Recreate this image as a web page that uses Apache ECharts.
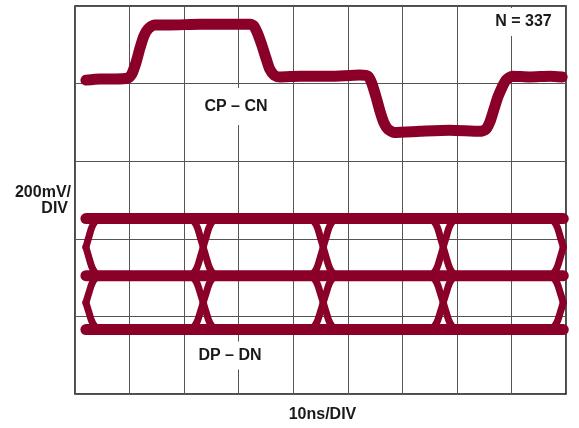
<!DOCTYPE html>
<html>
<head>
<meta charset="utf-8">
<script src="https://cdn.jsdelivr.net/npm/echarts@6/dist/echarts.min.js"></script>
<style>
html,body{margin:0;padding:0;background:#fff;}
#chart{width:579px;height:428px;}
</style>
</head>
<body>
<div id="chart"></div>
<script>
// ---- data (time in ns, amplitude in mV) ----
const xTicksNs = [0, 10, 20, 30, 40, 50, 60, 70, 80, 90];
const yTicksMv = [0, 200, 400, 600, 800, 1000];

// CP - CN trace
const cpcnTime = [2.0, 4.6, 7.3, 9.7, 10.4, 11.2, 11.9, 12.6, 13.4, 14.5, 17.4, 22.9, 28.4, 32.1,
  32.8, 33.5, 34.3, 35.0, 35.7, 36.5, 37.6, 41.2, 46.7, 52.2, 53.7, 54.4, 55.2, 55.9, 56.6, 57.4,
  58.5, 63.2, 68.7, 74.2, 75.3, 76.1, 76.8, 77.5, 78.3, 79.0, 80.1, 83.4, 87.1, 89.3];
const cpcnMv = [809, 812, 812, 814, 824, 855, 891, 922, 941, 951, 951, 953, 953, 953,
  948, 928, 897, 866, 837, 822, 817, 819, 819, 822, 819, 801, 765, 729, 700, 682,
  674, 677, 680, 677, 682, 703, 734, 765, 791, 809, 819, 817, 819, 817];

// DP - DN eye diagram
const eyeLevelsMv = [452, 305, 166];
const eyeCrossNs = [2.0, 23.5, 45.5, 67.5, 89.5];
const eyeSpanNs = [2.0, 89.5];
// measured shape of one edge: time offset from crossing, fraction of swing done
const edgeOffsetNs = [-2.4, -1.7, -1.1, -0.55, 0, 0.55, 1.1, 1.7, 2.4];
const edgeFraction = [0, 0.05, 0.15, 0.32, 0.5, 0.68, 0.85, 0.95, 1];

// ---- build series ----
const RED = '#8a0029';
const series = [];
series.push({
  type: 'line', data: cpcnTime.map((t, i) => [t, cpcnMv[i]]),
  showSymbol: false, smooth: 0.2,
  lineStyle: { color: RED, width: 11, cap: 'round', join: 'round' }
});
eyeLevelsMv.forEach(lv => {
  series.push({
    type: 'line', data: [[eyeSpanNs[0], lv], [eyeSpanNs[1], lv]], showSymbol: false,
    lineStyle: { color: RED, width: 11, cap: 'round' }
  });
});
const pairs = [[eyeLevelsMv[0], eyeLevelsMv[1]], [eyeLevelsMv[1], eyeLevelsMv[2]]];
eyeCrossNs.forEach(c => {
  pairs.forEach(([hi, lo]) => {
    [true, false].forEach(falling => {
      const pts = [];
      edgeOffsetNs.forEach((o, i) => {
        const t = c + o;
        if (t < eyeSpanNs[0] - 1e-6 || t > eyeSpanNs[1] + 1e-6) return;
        const f = edgeFraction[i];
        pts.push([t, falling ? hi - f * (hi - lo) : lo + f * (hi - lo)]);
      });
      series.push({
        type: 'line', data: pts, showSymbol: false, smooth: 0.4,
        lineStyle: { color: RED, width: 7, cap: 'round', join: 'round' }
      });
    });
  });
});

const FONT = 'bold 16px "Liberation Sans", Arial, sans-serif';
const TXT = '#1a1a1a';
function label(text, x, y, align, pad) {
  const st = { text, x, y, font: FONT, fill: TXT, align: align, verticalAlign: 'middle' };
  if (pad) { st.backgroundColor = '#fff'; st.padding = pad; }
  return { type: 'text', z: 100, style: st };
}

const chart = echarts.init(document.getElementById('chart'), null, { renderer: 'canvas' });
chart.setOption({
  animation: false,
  grid: { left: 75, right: 13, top: 6, bottom: 34, show: true, borderColor: '#111', borderWidth: 1.5, backgroundColor: '#fff' },
  xAxis: {
    type: 'value', min: xTicksNs[0], max: xTicksNs[xTicksNs.length - 1], interval: 10,
    axisLine: { show: false }, axisTick: { show: false }, axisLabel: { show: false },
    splitLine: { show: true, lineStyle: { color: '#555', width: 1 } }
  },
  yAxis: {
    type: 'value', min: yTicksMv[0], max: yTicksMv[yTicksMv.length - 1], interval: 200,
    axisLine: { show: false }, axisTick: { show: false }, axisLabel: { show: false },
    splitLine: { show: true, lineStyle: { color: '#555', width: 1 } }
  },
  series: series,
  graphic: [
    label('CP – CN', 236, 106.5, 'center', [13, 3, 8, 3]),
    label('N = 337', 523.5, 22, 'center', [6, 3, 6, 3]),
    label('DP – DN', 230, 355.5, 'center', [8, 3, 4, 3]),
    label('10ns/DIV', 322.5, 415, 'center'),
    label('200mV/', 71, 192.5, 'right'),
    label('DIV', 68, 208.5, 'right')
  ]
});
</script>
</body>
</html>
